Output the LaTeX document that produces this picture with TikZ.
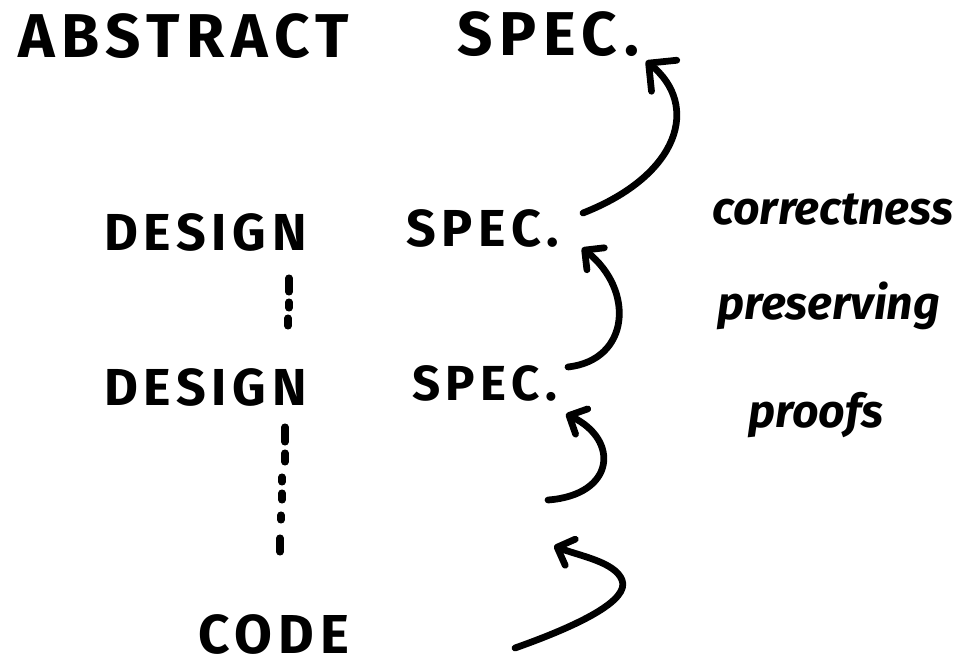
\documentclass[tikz,border=0pt]{standalone}
\usepackage{fontspec}
\setmainfont{Fira Sans}
\newfontfamily\handcaps[LetterSpace=11]{Fira Sans}
\usetikzlibrary{arrows.meta}

\begin{document}
\begin{tikzpicture}[
        x=0.025cm, y=-0.025cm,
        hand/.style={inner sep=0pt, anchor=base west, font=\handcaps\bfseries\fontsize{#1}{#1}\selectfont},
        note/.style={inner sep=0pt, anchor=base west, font=\bfseries\itshape\fontsize{33}{33}\selectfont},
        proof/.style={line width=4.8pt, line cap=round, line join=round,
          -{Straight Barb[length=0.35cm, width=0.7cm, round]}},
        dotmark/.style={line width=5pt, line cap=round},
      ]
        \fill[white] (0,0) rectangle (964,668);
        \useasboundingbox (0,0) rectangle (964,668);

        % Specification levels
        \node[hand=44] (abstract) at (18,58) {ABSTRACT};
        \node[hand=44] (absspec) at (457,56) {SPEC.};
        \node[hand=37] (design1) at (104,251) {DESIGN};
        \node[hand=37] (spec1) at (406,247) {SPEC.};
        \node[hand=37] (design2) at (104,405) {DESIGN};
        \node[hand=35] (spec2) at (412,400) {SPEC.};
        \node[hand=39] (code) at (198,653) {CODE};

        % Elided levels in between
        \foreach \x/\ya/\yb in {289/278/292, 289/302/308, 288/318/326} {
          \draw[dotmark] (\x,\ya) -- (\x,\yb);
        }
        \foreach \x/\ya/\yb in {285/427/442, 285/453/462, 282/477/482, 282/493/500, 281/515/520, 280/538/552} {
          \draw[dotmark] (\x,\ya) -- (\x,\yb);
        }

        % Arrow ends
        \coordinate (t1) at (583,213);
        \coordinate (h1) at (646,61);
        \coordinate (t2) at (568,367);
        \coordinate (h2) at (582,248);
        \coordinate (t3) at (548,500);
        \coordinate (h3) at (566,414);
        \coordinate (t4) at (515,648);
        \coordinate (h4) at (554,546);

        % Refinement steps
        \draw[proof, -{Straight Barb[length=0.5cm, width=1cm, round]}]
          (t1) .. controls (680,175) and (700,105) .. (h1);
        \draw[proof] (t2) .. controls (630,360) and (635,290) .. (h2);
        \draw[proof] (t3) .. controls (615,495) and (620,440) .. (h3);
        \draw[proof] (t4) .. controls (580,625) and (630,600) .. (622,580)
          .. controls (615,562) and (580,556) .. (h4);

        % Side note
        \node[note] (corr) at (712,225) {correctness};
        \node[note] (pres) at (717,320) {preserving};
        \node[note] (proofs) at (748,427) {proofs};
      \end{tikzpicture}
\end{document}
